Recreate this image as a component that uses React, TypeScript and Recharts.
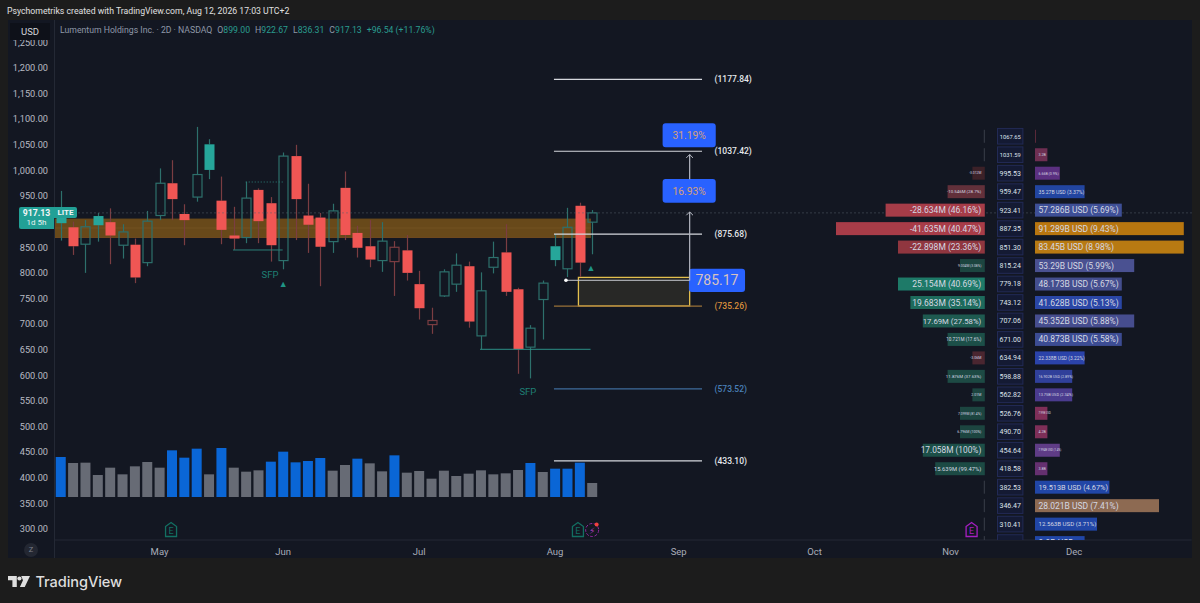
import {
  Bar,
  BarChart,
  Cell,
  ComposedChart,
  ReferenceArea,
  ReferenceDot,
  ReferenceLine,
  XAxis,
  YAxis,
} from "recharts";

// candles, 2D
const opens = [897, 889, 856, 893, 899, 854, 855, 820, 912, 975, 915, 948, 1001, 941, 873, 869, 962, 936, 824, 1028, 912, 908, 861, 966, 878, 852, 824, 850, 844, 778, 707, 755, 778, 813, 677, 811, 840, 768, 655, 748, 825, 808, 931, 899];
const highs = [960, 900, 903, 917, 926, 895, 867, 921, 1004, 1020, 934, 1085, 1061, 988, 929, 978, 965, 948, 1035, 1050, 974, 917, 935, 998, 892, 903, 899, 862, 874, 804, 732, 807, 838, 822, 801, 861, 895, 771, 698, 785, 876, 927, 937, 922.67];
const lows = [863, 835, 800, 861, 817, 828, 780, 813, 903, 903, 854, 939, 983, 856, 845, 858, 858, 822, 807, 864, 839, 774, 839, 864, 830, 811, 802, 755, 785, 709, 681, 753, 763, 693, 651, 799, 755, 603, 594, 670, 813, 792, 792, 836.31];
const closes = [923, 852, 890, 911, 873, 880, 791, 901, 975, 944, 903, 992, 1051, 884, 867, 946, 901, 854, 1028, 944, 894, 851, 921, 874, 849, 826, 862, 822, 800, 731, 699, 802, 815, 705, 765, 830, 763, 651, 692, 780, 852, 889, 820, 917.13];
const solidCandles = [0, 1, 3, 4, 6, 9, 10, 12, 13, 14, 16, 17, 19, 20, 21, 23, 24, 25, 28, 29, 33, 36, 37, 40, 42];

const volumes = [120, 102, 103, 66, 88, 68, 92, 105, 88, 140, 118, 145, 68, 147, 88, 76, 80, 106, 136, 104, 108, 117, 79, 96, 115, 101, 77, 125, 73, 78, 55, 79, 63, 70, 80, 68, 71, 81, 102, 75, 85, 85, 103, 42];
const blueVolumes = [0, 9, 10, 11, 13, 17, 18, 19, 20, 21, 24, 27, 38, 40, 41, 42];

const slotCount = 92;
const monthSlots = [8, 18, 29, 40, 50, 61, 72, 82];
const monthNames = ["May", "Jun", "Jul", "Aug", "Sep", "Oct", "Nov", "Dec"];
const priceTicks = [300, 350, 400, 450, 500, 550, 600, 650, 700, 750, 800, 850, 950, 1000, 1050, 1100, 1150, 1200, 1250];

// drawn levels
const levels = [
  { price: 1177.84, color: "#d6d8de", text: "#e6e8ec" },
  { price: 1037.42, color: "#d6d8de", text: "#e6e8ec" },
  { price: 875.68, color: "#d6d8de", text: "#e6e8ec" },
  { price: 735.26, color: "#9a7238", text: "#d98f3c" },
  { price: 573.52, color: "#3f6d9c", text: "#4a80b8" },
  { price: 433.1, color: "#d6d8de", text: "#e6e8ec" },
];

// right hand profile rows
const rowPrices = ["1067.65", "1031.59", "995.53", "959.47", "923.41", "887.35", "851.30", "815.24", "779.18", "743.12", "707.06", "671.00", "634.94", "598.88", "562.82", "526.76", "490.70", "454.64", "418.58", "382.53", "346.47", "310.41", "274.35"];
const deltaCells = [0.08, 0.08, 1, 3, 8, 12, 7, 2, 7, 6, 5, 3, 1, 3, 1, 2, 2, 5, 4, 0.08, 0.08, 0.08, 0.08];
const deltaLabels = ["", "", "-3.012M", "-10.546M (28.7%)", "-28.634M (46.16%)", "-41.635M (40.47%)", "-22.898M (23.36%)", "9.004M (3.08%)", "25.154M (40.69%)", "19.683M (35.14%)", "17.69M (27.58%)", "10.721M (17.6%)", "-3.06M", "11.876M (37.63%)", "2.01M", "7.099M (81.4%)", "6.796M (100%)", "17.058M (100%)", "15.639M (99.47%)", "", "", "", ""];
const deltaColors = ["#3a3f4a", "#3a3f4a", "#3c2128", "#62303a", "#a63c48", "#a83c48", "#90363f", "#1c4540", "#1e7a68", "#1d6a5c", "#1e5a50", "#1c4f48", "#4a2630", "#1d4a44", "#1c4540", "#1c4540", "#1c4540", "#1c4f48", "#1c4a44", "#3a3f4a", "#3a3f4a", "#3a3f4a", "#3a3f4a"];
const flowCells = [0.08, 1, 2, 4, 7, 12, 12, 8, 7, 7, 8, 7, 4, 3, 3, 1, 1, 2, 1, 6, 10, 5, 4];
const flowLabels = ["", "3.2B", "6.66B (0.9%)", "35.27B USD (3.37%)", "57.286B USD (5.69%)", "91.289B USD (9.43%)", "83.45B USD (8.98%)", "53.29B USD (5.99%)", "48.173B USD (5.67%)", "41.628B USD (5.13%)", "45.352B USD (5.88%)", "40.873B USD (5.58%)", "22.338B USD (3.22%)", "16.902B USD (2.89%)", "13.75B USD (2.34%)", "7.99B USD", "4.2B", "7.994B USD (1.4%)", "3.8B", "19.513B USD (4.67%)", "28.021B USD (7.41%)", "12.563B USD (3.71%)", "9.9B USD"];
const flowColors = ["#5a2a3a", "#6e2f52", "#5b3080", "#2245a0", "#3e4f96", "#b8760f", "#b87a12", "#4a5191", "#444e8e", "#2a46a5", "#464d8e", "#3c4c93", "#2b43aa", "#30409a", "#4a3b8e", "#7e2f58", "#7e2f58", "#5f3c86", "#653070", "#2146a6", "#8d6a52", "#2146a6", "#2146a6"];

const FONT = "Roboto, sans-serif";
const TEAL = "#26a69a";
const TEAL_DIM = "#2d706c";
const RED = "#f05654";
const RED_DIM = "#7b3d42";

const slots = Array.from({ length: slotCount }, (_, i) => i);
const chartData = slots.map((slot) => {
  const has = slot < opens.length;
  return {
    slot,
    range: has ? [lows[slot], highs[slot]] : null,
    open: opens[slot],
    high: highs[slot],
    low: lows[slot],
    close: closes[slot],
    solid: solidCandles.includes(slot),
    volume: has ? volumes[slot] : null,
  };
});
const rowData = rowPrices.map((level, i) => ({
  level,
  delta: deltaCells[i],
  flow: flowCells[i],
}));

const Candle = (props: any) => {
  const { x, y, width, height, payload } = props;
  if (!payload.range) return null;
  const cx = Math.round(x + width / 2) + 0.5;
  const up = payload.close >= payload.open;
  const perUnit = height / (payload.high - payload.low);
  const top = y + (payload.high - Math.max(payload.open, payload.close)) * perUnit;
  const bottom = y + (payload.high - Math.min(payload.open, payload.close)) * perUnit;
  const bright = up ? TEAL : RED;
  const dim = up ? TEAL_DIM : RED_DIM;
  return (
    <g>
      <line x1={cx} x2={cx} y1={y} y2={top} stroke={dim} strokeWidth={1.2} />
      <line x1={cx} x2={cx} y1={bottom} y2={y + height} stroke={dim} strokeWidth={1.2} />
      {payload.solid ? (
        <rect x={cx - 5} y={top} width={10} height={bottom - top} fill={bright} />
      ) : (
        <rect x={cx - 4.5} y={top} width={9} height={bottom - top} fill="none" stroke={dim} strokeWidth={1.2} />
      )}
    </g>
  );
};

const ProfileBar = (props: any) => {
  const { x, y, width, height, fill, label, side } = props;
  const left = Math.min(x, x + width);
  const w = Math.abs(width);
  let size = Math.min(8.5, (0.92 * w) / ((label || "x").length * 0.49));
  if (w < 30) size = Math.min(size, 3.6);
  return (
    <g>
      <rect x={left} y={y} width={w} height={height} fill={fill} />
      {label ? (
        <text
          x={side === "left" ? left + w - 3.5 : left + 3.5}
          y={y + height / 2 + size * 0.36}
          textAnchor={side === "left" ? "end" : "start"}
          fontFamily={FONT}
          fontSize={size}
          fill="#d5d8e2"
        >
          {label}
        </text>
      ) : null}
    </g>
  );
};

const PriceBox = (props: any) => {
  const text = props.payload.value;
  return (
    <g>
      <rect x={2.5} y={props.y - 7.8} width={25.4} height={15.6} fill="#141a33" stroke="#222a55" strokeWidth={1} />
      <text x={15.2} y={props.y + 2.5} textAnchor="middle" fontFamily={FONT} fontSize={text.length > 6 ? 5.8 : 7} fill="#dfe2ea">
        {text}
      </text>
    </g>
  );
};

const EarningsTag = ({ cx, cy, color }: any) => (
  <g>
    <path
      d={`M${cx - 5.5} ${cy - 3.5} L${cx} ${cy - 7.5} L${cx + 5.5} ${cy - 3.5} L${cx + 5.5} ${cy + 6.5} L${cx - 5.5} ${cy + 6.5} Z`}
      fill="#131722"
      stroke={color}
      strokeWidth={1.3}
    />
    <text x={cx} y={cy + 4} textAnchor="middle" fontFamily={FONT} fontSize={9} fill={color}>
      E
    </text>
  </g>
);

const SplitsMark = ({ cx, cy }: any) => (
  <g>
    <circle cx={cx} cy={cy} r={6.5} fill="#131722" stroke="#8f2a9e" strokeWidth={1} strokeDasharray="3 1.5" />
    <text x={cx} y={cy + 3.5} textAnchor="middle" fontSize={9} fontFamily="DejaVu Sans" fill="#b13fc0">
      ⚡
    </text>
    <circle cx={cx + 4.5} cy={cy - 5.5} r={2} fill="#f0413f" />
  </g>
);

const dotLabel = (value: string, fill: string, fontSize: number, position: any = "center", fontWeight = 400) => ({
  value,
  fill,
  fontSize,
  fontWeight,
  fontFamily: FONT,
  position,
});

const Chip = ({ left, top, width, height, bg, color, size, children, weight = 400 }: any) => (
  <div
    style={{
      position: "absolute",
      left,
      top,
      width,
      height,
      lineHeight: `${height}px`,
      background: bg,
      color,
      fontSize: size,
      fontFamily: FONT,
      fontWeight: weight,
      textAlign: "center",
      whiteSpace: "nowrap",
    }}
  >
    {children}
  </div>
);

const legendNumbers = [
  ["O", "899.00"],
  ["H", "922.67"],
  ["L", "836.31"],
  ["C", "917.13"],
];

export default function App() {
  return (
    <div style={{ position: "absolute", left: 0, top: 0, width: 1200, height: 603, background: "#1c1c1c", overflow: "hidden" }}>
      <div style={{ position: "absolute", left: 7, top: 5, fontFamily: FONT, fontSize: 8.7, color: "#e0e0e0", lineHeight: "12px", whiteSpace: "nowrap" }}>
        Psychometriks created with TradingView.com, Aug 12, 2026 17:03 UTC+2
      </div>
      {/* pane */}
      <div style={{ position: "absolute", left: 8, top: 20, width: 1184, height: 538, background: "#131722" }} />
      <div style={{ position: "absolute", left: 54, top: 540, width: 1, height: 18, background: "#242935" }} />

      <div style={{ position: "absolute", left: 0, top: 0 }}>
        <ComposedChart width={1200} height={603} data={chartData} margin={{ top: 20, right: 8.4, bottom: 45, left: 0 }}>
          <XAxis
            dataKey="slot"
            type="category"
            height={18}
            ticks={monthSlots}
            interval={0}
            tickLine={false}
            axisLine={{ stroke: "#242935" }}
            tickMargin={2}
            tick={{ fill: "#a9adb8", fontSize: 9.5, fontFamily: FONT }}
            tickFormatter={(v: number) => monthNames[monthSlots.indexOf(v)]}
          />
          <XAxis xAxisId="vol" dataKey="slot" type="category" hide />
          <XAxis xAxisId="pos" dataKey="slot" type="number" domain={[0, slotCount]} allowDataOverflow hide />
          <YAxis
            width={54.5}
            type="number"
            domain={[278.5, 1293.7]}
            ticks={priceTicks}
            interval={0}
            tickLine={false}
            axisLine={{ stroke: "#242935" }}
            tickMargin={0.5}
            tick={{ fill: "#b8bbc4", fontSize: 9.2, fontFamily: FONT }}
            tickFormatter={(v: number) => v.toLocaleString("en-US", { minimumFractionDigits: 2 })}
          />
          <YAxis yAxisId="vol" type="number" domain={[-129, 1431]} hide />

          {/* supply band, stays under the candles */}
          <ReferenceArea xAxisId="pos" x1={0} x2={43.4} y1={869.33} y2={905.38} fill="#7e5619" fillOpacity={0.8} stroke="none" />
          <ReferenceArea xAxisId="pos" x1={0} x2={43.4} y1={905} y2={906} fill="#a06a15" stroke="none" />
          <ReferenceArea xAxisId="pos" x1={0} x2={43.4} y1={887} y2={888} fill="#93703a" stroke="none" />
          <ReferenceArea xAxisId="pos" x1={0} x2={43.4} y1={868.6} y2={870.2} fill="#e08a1e" stroke="none" />

          {/* last price */}
          <ReferenceLine xAxisId="pos" y={917.13} stroke="#56626a" strokeDasharray="1 3" />

          <Bar dataKey="volume" xAxisId="vol" yAxisId="vol" barCategoryGap="5%" isAnimationActive={false}>
            {chartData.map((d) => (
              <Cell key={d.slot} fill={blueVolumes.includes(d.slot) ? "#0a66d6" : "#676b75"} />
            ))}
          </Bar>
          <Bar dataKey="range" shape={Candle} isAnimationActive={false} />

          {/* SFP markers */}
          <ReferenceLine xAxisId="pos" segment={[{ x: 14.44, y: 844.7 }, { x: 18.46, y: 844.7 }]} stroke="#2c7f78" />
          <ReferenceLine xAxisId="pos" segment={[{ x: 15.47, y: 977.4 }, { x: 18.5, y: 977.4 }]} stroke="#2c7f78" strokeDasharray="1 2" />
          <ReferenceLine xAxisId="pos" segment={[{ x: 34.43, y: 650.8 }, { x: 43.37, y: 650.8 }]} stroke="#2c8f86" />
          <ReferenceDot xAxisId="pos" x={17.43} y={795.9} r={0} label={dotLabel("SFP", "#1f7f74", 9.5)} />
          <ReferenceDot xAxisId="pos" x={38.3} y={567.4} r={0} label={dotLabel("SFP", "#1f7f74", 9.5)} />
          <ReferenceDot xAxisId="pos" x={18.5} y={778.3} r={0} label={dotLabel("▲", "#1f9485", 9)} />
          <ReferenceDot xAxisId="pos" x={43.4} y={809.5} r={0} label={dotLabel("▲", "#1f9485", 9)} />

          {/* measured levels */}
          {levels.map((lv) => (
            <ReferenceLine
              key={lv.price}
              xAxisId="pos"
              segment={[{ x: 40.41, y: lv.price }, { x: 52.39, y: lv.price }]}
              stroke={lv.color}
              strokeWidth={1.2}
            />
          ))}
          {levels.map((lv) => (
            <ReferenceDot
              key={lv.price}
              xAxisId="pos"
              x={53}
              y={lv.price}
              r={0}
              label={dotLabel(`(${lv.price.toFixed(2)})`, lv.text, 8.5, "right", 500)}
            />
          ))}

          {/* entry box and targets */}
          <ReferenceArea xAxisId="pos" x1={42.39} x2={51.39} y1={735.3} y2={791.3} fill="#3d3a2a" stroke="#e3c04e" strokeWidth={1.3} />
          <ReferenceLine xAxisId="pos" segment={[{ x: 41.38, y: 785.5 }, { x: 51.39, y: 785.5 }]} stroke="#c4c6cc" />
          <ReferenceDot xAxisId="pos" x={41.38} y={785.5} r={1.8} fill="#ffffff" stroke="none" />
          <ReferenceLine xAxisId="pos" segment={[{ x: 51.39, y: 785 }, { x: 51.39, y: 919 }]} stroke="#b4b8c2" strokeWidth={1.2} />
          <ReferenceLine xAxisId="pos" segment={[{ x: 51.39, y: 983 }, { x: 51.39, y: 1031 }]} stroke="#b4b8c2" strokeWidth={1.2} />
          {[919, 1031].map((tip) => (
            <ReferenceLine key={`l${tip}`} xAxisId="pos" segment={[{ x: 51.12, y: tip - 6.5 }, { x: 51.39, y: tip }]} stroke="#b4b8c2" />
          ))}
          {[919, 1031].map((tip) => (
            <ReferenceLine key={`r${tip}`} xAxisId="pos" segment={[{ x: 51.66, y: tip - 6.5 }, { x: 51.39, y: tip }]} stroke="#b4b8c2" />
          ))}
          <ReferenceArea xAxisId="pos" x1={49.2} x2={53.5} y1={937} y2={983.3} fill="#2962ff" fillOpacity={1} radius={3} label={dotLabel("16.93%", "#d6a07a", 10.3)} />
          <ReferenceArea xAxisId="pos" x1={49.2} x2={53.5} y1={1045.2} y2={1092} fill="#2962ff" fillOpacity={1} radius={3} label={dotLabel("31.19%", "#d6a07a", 10.3)} />
          <ReferenceArea xAxisId="pos" x1={51.33} x2={55.87} y1={762.6} y2={808.2} fill="#2962ff" fillOpacity={1} radius={3} label={dotLabel("785.17", "#d8c2c0", 14)} />

          {/* events row */}
          <ReferenceDot xAxisId="pos" x={9.43} y={298} r={0} shape={(p: any) => <EarningsTag {...p} color="#136f62" />} />
          <ReferenceDot xAxisId="pos" x={42.35} y={298} r={0} shape={(p: any) => <EarningsTag {...p} color="#136f62" />} />
          <ReferenceDot xAxisId="pos" x={43.5} y={298} r={0} shape={(p: any) => <SplitsMark {...p} />} />
          <ReferenceDot xAxisId="pos" x={74.2} y={298} r={0} shape={(p: any) => <EarningsTag {...p} color="#a51fc0" />} />
        </ComposedChart>
      </div>

      {/* volume profile, clipped at the time scale */}
      <div style={{ position: "absolute", left: 0, top: 0, width: 1200, height: 540, overflow: "hidden" }}>
        <div style={{ position: "absolute", left: 836.2, top: 126.6 }}>
          <BarChart width={148.8} height={424.8} data={rowData} layout="vertical" margin={{ top: 0, right: 0, bottom: 0, left: 0 }} barCategoryGap="15%">
            <XAxis type="number" domain={[0, 12]} reversed hide />
            <YAxis type="category" dataKey="level" hide />
            <Bar
              dataKey="delta"
              isAnimationActive={false}
              shape={(p: any) => <ProfileBar {...p} side="left" fill={deltaColors[p.index]} label={deltaLabels[p.index]} />}
            />
          </BarChart>
        </div>
        <div style={{ position: "absolute", left: 995, top: 126.6 }}>
          <BarChart width={188.8} height={424.8} data={rowData} layout="vertical" margin={{ top: 0, right: 0, bottom: 0, left: 0 }} barCategoryGap="15%">
            <XAxis type="number" domain={[0, 12]} hide />
            <YAxis type="category" dataKey="level" width={40} interval={0} tickLine={false} axisLine={false} tick={PriceBox} />
            <Bar
              dataKey="flow"
              isAnimationActive={false}
              shape={(p: any) => <ProfileBar {...p} side="right" fill={flowColors[p.index]} label={flowLabels[p.index]} />}
            />
          </BarChart>
        </div>
      </div>

      {/* top left of pane */}
      <Chip left={10} top={23} width={40} height={17} bg="#0e1119" color="#d4d6dc" size={9.5}>
        USD
      </Chip>
      <div style={{ position: "absolute", left: 60, top: 24, fontFamily: FONT, fontSize: 8.7, lineHeight: "12px", color: "#8f98a8", whiteSpace: "nowrap" }}>
        Lumentum Holdings Inc. · 2D · NASDAQ
        {legendNumbers.map(([k, v]) => (
          <span key={k} style={{ marginLeft: 5 }}>
            {k}
            <span style={{ color: "#2a9d8f" }}>{v}</span>
          </span>
        ))}
        <span style={{ marginLeft: 5, color: "#2a9d8f" }}>+96.54 (+11.76%)</span>
      </div>

      {/* last price tag */}
      <div style={{ position: "absolute", left: 19, top: 207, width: 35, height: 22, background: "#22a096", borderRadius: "2px 0 0 2px" }} />
      <div style={{ position: "absolute", left: 54, top: 207, width: 23, height: 11, background: "#22a096", borderRadius: "0 2px 2px 0" }} />
      <Chip left={19} top={208} width={35} height={10} color="#f4f6f6" size={8.7} weight={700}>
        917.13
      </Chip>
      <Chip left={19} top={218} width={35} height={10} color="#e8f2f0" size={8}>
        1d 5h
      </Chip>
      <Chip left={54} top={207} width={23} height={11} color="#f4f6f6" size={8} weight={700}>
        LITE
      </Chip>

      {/* Z button */}
      <div style={{ position: "absolute", left: 24, top: 543, width: 14, height: 14, borderRadius: 7, background: "#232732", color: "#7c818d", fontFamily: FONT, fontSize: 7.5, lineHeight: "14px", textAlign: "center" }}>
        Z
      </div>

      {/* footer logo */}
      <svg style={{ position: "absolute", left: 8, top: 576 }} width={22} height={11} viewBox="0 0 25 13" preserveAspectRatio="none">
        <path d="M0 0H10V13H5V5H0Z" fill="#dedede" />
        <path d="M15 0H25L19 13H13.5L17 5Z" fill="#dedede" />
        <circle cx={13} cy={3} r={2.4} fill="#dedede" />
      </svg>
      <div style={{ position: "absolute", left: 35.5, top: 573, fontFamily: "Inter, sans-serif", fontWeight: 500, fontSize: 14.6, color: "#dedede", letterSpacing: -0.1 }}>
        TradingView
      </div>
    </div>
  );
}
